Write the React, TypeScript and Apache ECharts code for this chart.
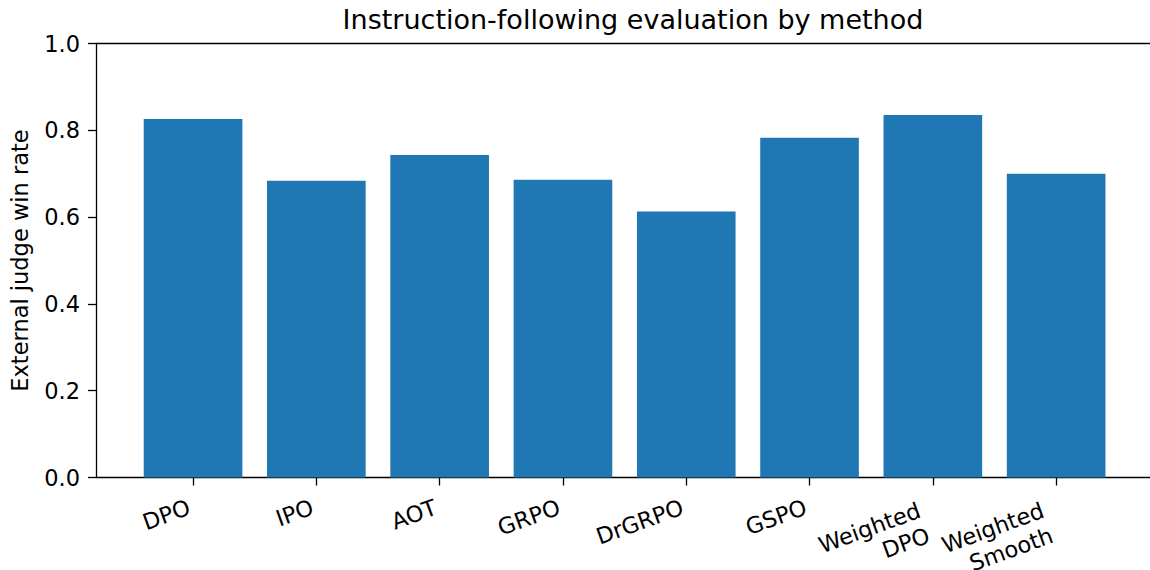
import React, { useEffect, useRef } from "react";
import * as echarts from "echarts";

const categories = ["DPO", "IPO", "AOT", "GRPO", "DrGRPO", "GSPO", "Weighted\nDPO", "Weighted\nSmooth"];
const winRates = [0.826, 0.684, 0.743, 0.686, 0.613, 0.783, 0.835, 0.700];
const yTicks = [0, 0.2, 0.4, 0.6, 0.8, 1.0];
const titleText = "Instruction-following evaluation by method";
const yAxisTitle = "External judge win rate";

const FONT = "DejaVu Sans";

export default function App() {
  const ref = useRef<HTMLDivElement>(null);
  useEffect(() => {
    document.body.style.margin = "0";
    const chart = echarts.init(ref.current!, null, { renderer: "svg" });
    const frameTop = 43.5;
    const frameBottom = 570 - 477.5;
    chart.setOption({
      animation: false,
      backgroundColor: "#ffffff",
      title: {
        text: titleText,
        left: 628,
        textAlign: "center",
        top: 1,
        textStyle: { fontFamily: FONT, fontSize: 27, fontWeight: "normal", color: "#000" },
      },
      grid: [
        { left: 96, right: -3.5, top: frameTop, bottom: frameBottom, containLabel: false, outerBoundsMode: "none" },
        { left: 131.4, right: 32.2, top: frameTop, bottom: frameBottom, containLabel: false, outerBoundsMode: "none" },
      ],
      xAxis: [
        {
          gridIndex: 0,
          type: "value",
          min: 0,
          max: 1,
          position: "bottom",
          axisLine: { show: true, onZero: false, lineStyle: { color: "#000", width: 1.3 } },
          axisTick: { show: false },
          axisLabel: { show: false },
          splitLine: { show: false },
        },
        {
          gridIndex: 0,
          type: "value",
          min: 0,
          max: 1,
          position: "top",
          axisLine: { show: true, onZero: false, lineStyle: { color: "#000", width: 1.3 } },
          axisTick: { show: false },
          axisLabel: { show: false },
          splitLine: { show: false },
        },
        {
          gridIndex: 1,
          type: "category",
          data: categories,
          position: "bottom",
          boundaryGap: true,
          axisLine: { show: false },
          axisTick: { show: true, alignWithLabel: true, length: 8, lineStyle: { color: "#000", width: 1.3 } },
          axisLabel: {
            interval: 0,
            rotate: 20,
            margin: 13,
            fontFamily: FONT,
            fontSize: 22.5,
            color: "#000",
            align: "right",
            verticalAlign: "top",
            lineHeight: 27,
            padding: [0, 9, 0, 0],
            formatter: (v: string) =>
              v.indexOf("\n") >= 0
                ? v
                    .split("\n")
                    .map((s) => `{m|${s}}`)
                    .join("\n")
                : v,
            rich: {
              m: {
                fontFamily: FONT,
                fontSize: 22.5,
                color: "#000",
                lineHeight: 26.5,
                padding: [0, 10, 0, 0],
              },
            },
          },
          splitLine: { show: false },
        },
      ],
      yAxis: [
        {
          gridIndex: 0,
          type: "value",
          min: 0,
          max: 1,
          interval: 0.2,
          position: "left",
          name: yAxisTitle,
          nameLocation: "middle",
          nameGap: 65,
          nameTextStyle: { fontFamily: FONT, fontSize: 22.5, color: "#000" },
          axisLine: { show: true, onZero: false, lineStyle: { color: "#000", width: 1.3 } },
          axisTick: { show: true, length: 8, lineStyle: { color: "#000", width: 1.3 } },
          axisLabel: {
            margin: 16,
            fontFamily: FONT,
            fontSize: 22.5,
            color: "#000",
            formatter: (v: number) => {
              const t = yTicks.find((x) => Math.abs(x - v) < 1e-9);
              return (t !== undefined ? t : v).toFixed(1);
            },
          },
          splitLine: { show: false },
        },
        {
          gridIndex: 1,
          type: "value",
          min: 0,
          max: 1,
          show: false,
          splitLine: { show: false },
        },
      ],
      series: [
        {
          type: "bar",
          xAxisIndex: 2,
          yAxisIndex: 1,
          data: winRates,
          barWidth: "80%",
          itemStyle: { color: "#1f77b4" },
        },
      ],
    });
    return () => chart.dispose();
  }, []);
  return <div ref={ref} style={{ width: 1150, height: 570 }} />;
}
